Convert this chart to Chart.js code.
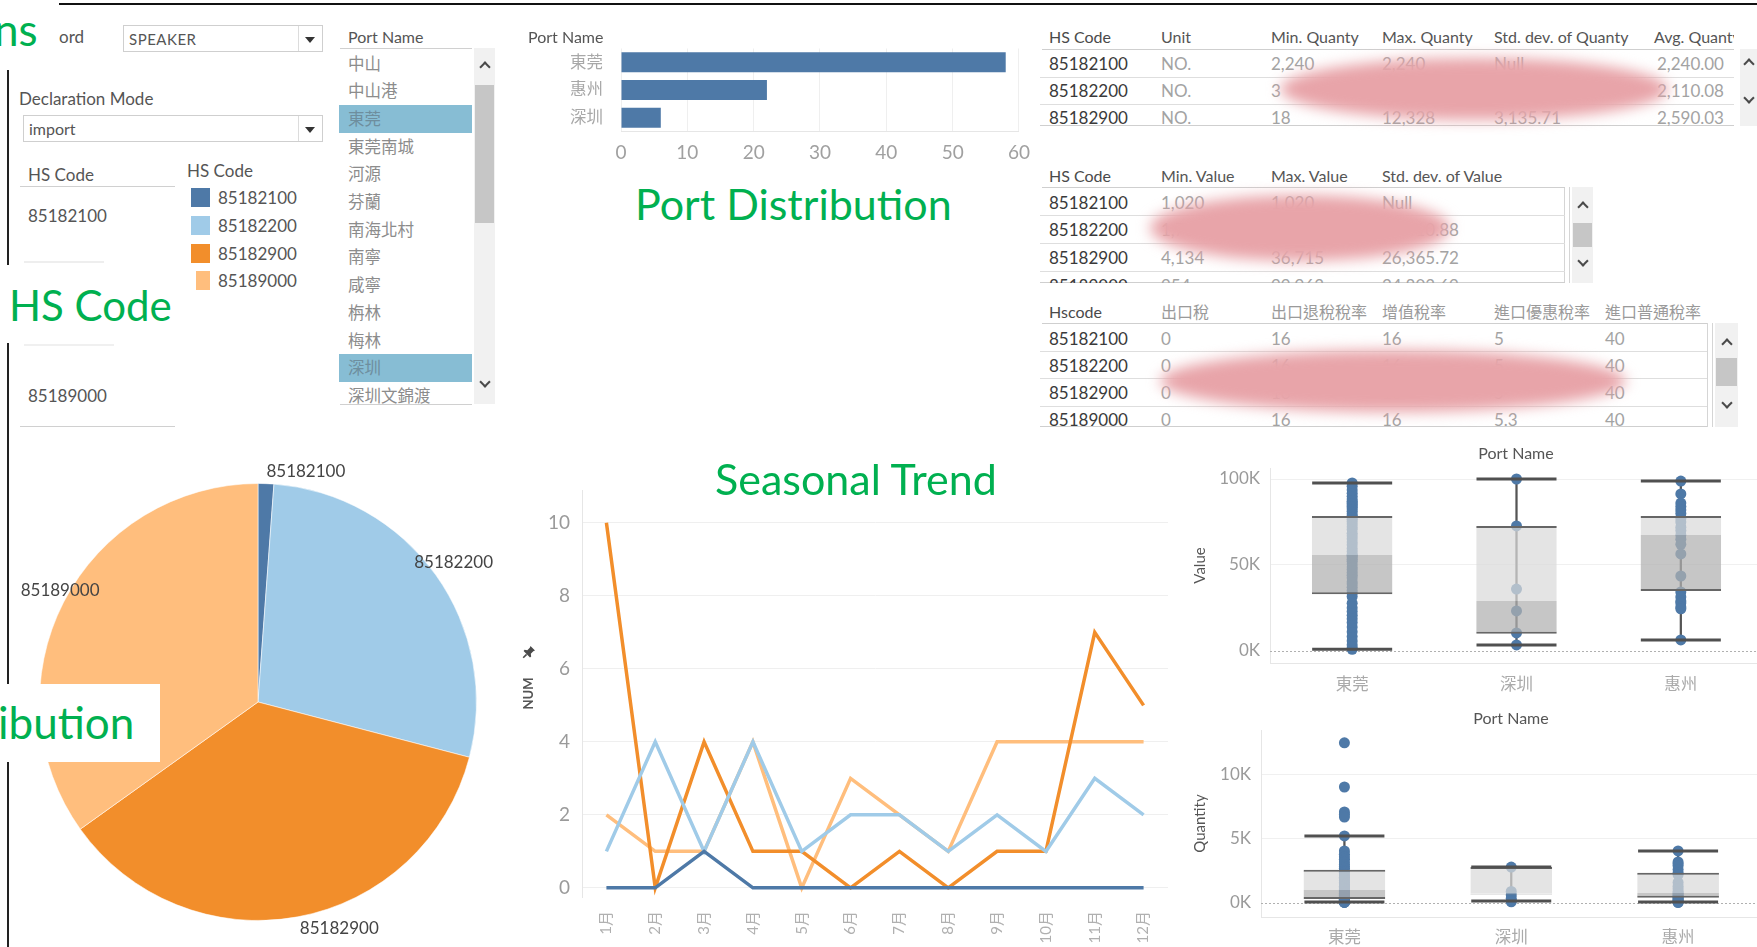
<!DOCTYPE html>
<html>
<head>
<meta charset="utf-8">
<title>SPEAKER dashboard</title>
<script src="https://cdn.jsdelivr.net/npm/chart.js@4.4.1/dist/chart.umd.min.js"></script>
<style>
  html, body { margin:0; padding:0; background:#fff; overflow:hidden; }
  #root { position:relative; width:1757px; height:947px; overflow:hidden; background:#fff;
          font-family: Lato, 'Noto Sans CJK TC', 'Noto Sans', sans-serif; color:#555; }
  #root canvas { position:absolute; z-index:1; }
  .t { position:absolute; white-space:nowrap; line-height:1; transform:translateY(-50%); z-index:3; }
  .r { position:absolute; z-index:2; }
  .chev { position:absolute; width:6px; height:6px; border-left:2px solid #4a4a4a; border-top:2px solid #4a4a4a; z-index:3; }
  .blob { position:absolute; border-radius:50%; background:#e8a4a9; filter:blur(7px); z-index:8; }
  .clip { position:absolute; overflow:hidden; z-index:3; }
</style>
</head>
<body>
<div id="root"></div>
<script>
// ================= DATA =================
const hsCodes = ['85182100', '85182200', '85182900', '85189000'];
const hsCounts = [1, 24, 31, 30];

const months = ['1月','2月','3月','4月','5月','6月','7月','8月','9月','10月','11月','12月'];
const num85182100 = [0, 0, 1, 0, 0, 0, 0, 0, 0, 0, 0, 0];
const num85182200 = [1, 4, 1, 4, 1, 2, 2, 1, 2, 1, 3, 2];
const num85182900 = [10, 0, 4, 1, 1, 0, 1, 0, 1, 1, 7, 5];
const num85189000 = [2, 1, 1, 4, 0, 3, 2, 1, 4, 4, 4, 4];
const numTicks = [0, 2, 4, 6, 8, 10];

const barPorts = ['東莞', '惠州', '深圳'];
const barCounts = [58, 22, 6];
const barTicks = [0, 10, 20, 30, 40, 50, 60];

const boxPorts = ['東莞', '深圳', '惠州'];
const valueMin    = [1000, 3500, 6400];
const valueQ1     = [33000, 10000, 34900];
const valueMedian = [55800, 29000, 67400];
const valueQ3     = [78500, 72700, 78500];
const valueMax    = [97700, 100000, 98800];
const valueTicks  = [0, 50000, 100000];
const valueDongguan = [1000, 1900, 3600, 5800, 8400, 11200, 13900, 16500, 18800, 20700, 22900, 25100, 27800, 31600,
  33600, 35200, 37100, 38900, 40300, 42600, 44100, 45700, 47400, 48800, 50500, 52200, 53400, 54700, 55500,
  56100, 57900, 59600, 61800, 63300, 65200, 66900, 68400, 70700, 72100, 73800, 75300, 76600, 77900, 78400,
  79800, 81300, 82600, 83700, 84500, 85400, 86200, 87100, 88300, 89900, 91700, 93600, 95800, 97700];
const valueShenzhen = [100000, 72700, 36000, 23300, 10500, 3500];
const valueHuizhou = [98800, 91300, 86000, 84000, 82000, 80000, 77000, 75000, 72000, 70000, 67400, 65000, 62000,
  56400, 43600, 34300, 31400, 29000, 27900, 25600, 24500, 6400];

const qtyMin    = [80, 150, 80];
const qtyQ1     = [300, 650, 400];
const qtyMedian = [1000, 720, 780];
const qtyQ3     = [2580, 2800, 2350];
const qtyMax    = [5230, 2800, 4060];
const qtyTicks  = [0, 5000, 10000];
const qtyDongguan = [12500, 9050, 7100, 6900, 6700, 5230, 4060, 3800, 3600, 3400, 3200, 3000, 2850, 2700,
  2500, 2400, 2250, 2100, 2000, 1900, 1750, 1600, 1500, 1400, 1300, 1200, 1100, 1050,
  960, 900, 850, 800, 750, 700, 650, 600, 550, 500, 450, 400, 350, 320,
  290, 260, 240, 220, 200, 180, 160, 140, 120, 100, 90, 80, 70, 60, 50, 40];
const qtyShenzhen = [2800, 900, 620, 350, 180, 90];
const qtyHuizhou = [4060, 3200, 3050, 2900, 2600, 2350, 2200, 1600, 1300, 1100, 900, 780, 700, 600, 450, 400, 300, 220, 150, 100, 60, 30];

const portList = ['中山', '中山港', '東莞', '東莞南城', '河源', '芬蘭', '南海北村', '南寧', '咸寧', '栴林', '梅林', '深圳', '深圳文錦渡'];
const portSelected = ['東莞', '深圳'];
const hsFilterShown = ['85182100', '85189000'];

const qtyTableHead = ['HS Code', 'Unit', 'Min. Quanty', 'Max. Quanty', 'Std. dev. of Quanty', 'Avg. Quanty'];
const qtyTableRows = [
  ['85182100', 'NO.', '2,240', '2,240', 'Null', '2,240.00'],
  ['85182200', 'NO.', '3', '5,400', '1,702.64', '2,110.08'],
  ['85182900', 'NO.', '18', '12,328', '3,135.71', '2,590.03']
];
const valTableHead = ['HS Code', 'Min. Value', 'Max. Value', 'Std. dev. of Value'];
const valTableRows = [
  ['85182100', '1,020', '1,020', 'Null'],
  ['85182200', '1,732', '98,120', '27,410.88'],
  ['85182900', '4,134', '36,715', '26,365.72'],
  ['85189000', '954', '99,963', '24,803.69']
];
const taxTableHead = ['Hscode', '出口稅', '出口退稅稅率', '增值稅率', '進口優惠稅率', '進口普通稅率'];
const taxTableRows = [
  ['85182100', '0', '16', '16', '5', '40'],
  ['85182200', '0', '16', '16', '5', '40'],
  ['85182900', '0', '16', '16', '5', '40'],
  ['85189000', '0', '16', '16', '5.3', '40']
];

// ================= STYLE =================
const palette = ['#4e79a7', '#a0cbe8', '#f28e2b', '#ffbe7d'];
const root = document.getElementById('root');
const FONT = "Lato, 'Noto Sans CJK TC', sans-serif";

function txt(s, x, y, size, color, extra, parent) {
  const d = document.createElement('div');
  d.className = 't';
  d.textContent = s;
  d.style.left = x + 'px'; d.style.top = y + 'px';
  d.style.fontSize = size + 'px'; d.style.color = color;
  if (extra) Object.assign(d.style, extra);
  (parent || root).appendChild(d);
  return d;
}
function rect(x, y, w, h, bg, extra, parent) {
  const d = document.createElement('div');
  d.className = 'r';
  Object.assign(d.style, { left: x + 'px', top: y + 'px', width: w + 'px', height: h + 'px', background: bg });
  if (extra) Object.assign(d.style, extra);
  (parent || root).appendChild(d);
  return d;
}
function chev(cx, cy, up) {
  const d = document.createElement('div');
  d.className = 'chev';
  d.style.left = (cx - 4) + 'px';
  d.style.top = (up ? cy - 2 : cy - 6) + 'px';
  d.style.transform = up ? 'rotate(45deg)' : 'rotate(225deg)';
  root.appendChild(d);
}
function scrollbar(x, y, w, h, thumbTop, thumbH, upY, downY) {
  rect(x, y, w, h, '#f1f1f1');
  if (thumbH) rect(x + 1, thumbTop, w - 2, thumbH, '#c6c6c6');
  chev(x + w / 2, upY, true);
  chev(x + w / 2, downY, false);
}
function mk(left, top, w, h) {
  const c = document.createElement('canvas');
  c.width = w; c.height = h;
  Object.assign(c.style, { left: left + 'px', top: top + 'px', width: w + 'px', height: h + 'px' });
  root.appendChild(c);
  return c.getContext('2d');
}
// keep tick labels from pushing the plot area around
const noPadY = (w) => (s) => { s.width = w; s.paddingTop = 0; s.paddingBottom = 0; };

// ================= FRAME LINES / TITLES =================
rect(59, 3, 1698, 2, '#111');
rect(7, 70, 2, 877, '#222');
rect(0, 265, 176, 78, '#fff', { zIndex: 5 });
rect(0, 684, 160, 78, '#fff', { zIndex: 5 });
txt('ns', -6, 29, 44, '#00b050', { zIndex: 6 });
txt('HS Code', 9, 305, 42, '#00b050', { zIndex: 6 });
txt('ibution', -2, 722, 44, '#00b050', { zIndex: 6 });
txt('Port Distribution', 635, 203, 43, '#00b050');
txt('Seasonal Trend', 715, 478, 43, '#00b050');

// ================= LEFT FILTERS =================
txt('ord', 59, 36, 17, '#555');
rect(123, 25, 200, 27, '#fff', { border: '1px solid #cfcfcf', boxSizing: 'border-box' });
rect(298, 26, 1, 25, '#dcdcdc');
rect(305, 37, 0, 0, 'transparent', { borderLeft: '5px solid transparent', borderRight: '5px solid transparent', borderTop: '6px solid #333', zIndex: 3 });
txt('SPEAKER', 129, 39, 15, '#555', { letterSpacing: '0.5px' });

txt('Declaration Mode', 19, 98, 17, '#555');
rect(23, 115, 300, 27, '#fff', { border: '1px solid #cfcfcf', boxSizing: 'border-box' });
rect(298, 116, 1, 25, '#dcdcdc');
rect(305, 127, 0, 0, 'transparent', { borderLeft: '5px solid transparent', borderRight: '5px solid transparent', borderTop: '6px solid #333', zIndex: 3 });
txt('import', 29, 129, 16, '#555');

txt('HS Code', 28, 174, 17, '#555');
rect(20, 186, 155, 1, '#d0d0d0');
txt(hsFilterShown[0], 28, 215, 17, '#555');
rect(24, 261, 80, 2, '#eeeeee');
rect(24, 344, 90, 2, '#f0f0f0');
txt(hsFilterShown[1], 28, 395, 17, '#555');
rect(20, 426, 155, 1, '#d0d0d0');

// legend
txt('HS Code', 187, 170, 17, '#555');
const legendY = [197, 225, 253, 280];
hsCodes.forEach((c, i) => {
  const x = i === 3 ? 196 : 191, w = i === 3 ? 14 : 19;
  rect(x, legendY[i] - 9.5, w, 19, palette[i]);
  txt(c, 218, legendY[i], 17, '#555');
});

// port name list
txt('Port Name', 348, 37, 16, '#555');
rect(340, 48, 132, 1, '#d0d0d0');
const listStep = 27.7;
portList.forEach((p, i) => {
  const cy = 63.5 + i * listStep;
  if (portSelected.includes(p)) rect(339, cy - 14, 133, 27.7, '#87bdd4');
  txt(p, 348, cy, 16.5, portSelected.includes(p) ? '#6e8e9e' : '#8c8c8c');
});
rect(340, 404, 132, 1, '#d0d0d0');
scrollbar(474, 48, 21, 356, 85, 138, 65, 384);

// ================= TABLES =================
function buildTable(opts) {
  const c = document.createElement('div');
  c.className = 'clip';
  Object.assign(c.style, { left: opts.x + 'px', top: opts.y + 'px', width: opts.w + 'px', height: opts.h + 'px' });
  root.appendChild(c);
  opts.head.forEach((h, j) => {
    txt(h, opts.cols[j] - opts.x, opts.headY - opts.y, 16, j === 0 ? '#4a4a4a' : opts.headColor, null, c);
  });
  rect(2, opts.lineY - opts.y, opts.w, 1, '#cfcfcf', null, c);
  opts.rows.forEach((r, i) => {
    const cy = opts.row0 - opts.y + i * opts.step;
    r.forEach((v, j) => {
      const right = opts.rightAlign && j === r.length - 1;
      txt(v, (right ? opts.rightAlign : opts.cols[j]) - opts.x, cy, 17, j === 0 ? '#3a3a3a' : '#a3a3a3',
          right ? { transform: 'translate(-100%,-50%)' } : null, c);
    });
    rect(0, cy + opts.step / 2, opts.w, 1, '#dedede', null, c);
  });
  rect(0, opts.h - 1, opts.w, 1, '#cfcfcf', null, c);
}
buildTable({ x: 1040, y: 20, w: 694, h: 106, head: qtyTableHead, rows: qtyTableRows,
  cols: [1049, 1161, 1271, 1382, 1494, 1654], rightAlign: 1724, headY: 37, headColor: '#555',
  lineY: 49, row0: 63, step: 27 });
rect(1734, 49, 6, 77, '#fff');
scrollbar(1740, 49, 17, 77, 0, 0, 62, 100);

buildTable({ x: 1040, y: 160, w: 525, h: 123, head: valTableHead, rows: valTableRows,
  cols: [1049, 1161, 1271, 1382], headY: 176, headColor: '#555',
  lineY: 187, row0: 201.5, step: 27.7 });
rect(1564, 187, 1, 96, '#d5d5d5'); rect(1569, 187, 1, 96, '#d5d5d5');
scrollbar(1572, 187, 21, 96, 223, 24, 205, 263);

buildTable({ x: 1040, y: 296, w: 667, h: 131, head: taxTableHead, rows: taxTableRows,
  cols: [1049, 1161, 1271, 1382, 1494, 1605], headY: 312, headColor: '#9a9a9a',
  lineY: 323, row0: 337.5, step: 27.3 });
rect(1707, 323, 1, 104, '#d5d5d5'); rect(1712, 323, 1, 104, '#d5d5d5');
scrollbar(1715, 323, 23, 104, 358, 28, 342, 405);

// redaction blobs
[[1280, 58, 388, 62], [1150, 195, 300, 66], [1160, 350, 466, 62]].forEach(b => {
  const d = document.createElement('div');
  d.className = 'blob';
  Object.assign(d.style, { left: b[0] + 'px', top: b[1] + 'px', width: b[2] + 'px', height: b[3] + 'px' });
  root.appendChild(d);
});

// ================= CHART DEFAULTS =================
Chart.defaults.font.family = FONT;
Chart.defaults.color = '#999';
Chart.defaults.animation = false;
Chart.defaults.responsive = false;
Chart.defaults.plugins.legend.display = false;
Chart.defaults.plugins.tooltip.enabled = false;

// ================= PORT DISTRIBUTION BAR =================
txt('Port Name', 528, 37, 16, '#555');
new Chart(mk(520, 44, 520, 125), {
  type: 'bar',
  data: { labels: barPorts, datasets: [{ data: barCounts, backgroundColor: '#4e79a7', barPercentage: 0.72, categoryPercentage: 1 }] },
  options: {
    indexAxis: 'y',
    layout: { autoPadding: false, padding: { top: 4.5, right: 20, left: 0, bottom: 0 } },
    scales: {
      x: { min: 0, max: 60,
           afterBuildTicks: s => { s.ticks = barTicks.map(v => ({ value: v })); },
           ticks: { color: '#a0a0a0', font: { size: 19 }, padding: 10 },
           grid: { color: '#efefef', drawTicks: false },
           border: { display: true, color: '#e6e6e6' },
           afterFit: s => { s.height = 37.5; } },
      y: { ticks: { color: '#a8a8a8', font: { size: 16.5 }, padding: 10, autoSkip: false },
           grid: { display: false }, border: { display: false },
           afterFit: noPadY(101) }
    }
  }
});

// ================= PIE =================
const pieLabels = {
  id: 'pieLabels',
  afterDatasetsDraw(chart) {
    const ctx = chart.ctx, meta = chart.getDatasetMeta(0);
    ctx.save();
    ctx.font = '17px ' + FONT; ctx.fillStyle = '#444'; ctx.textBaseline = 'middle';
    meta.data.forEach((arc, i) => {
      const p = arc.getProps(['x', 'y', 'startAngle', 'endAngle', 'outerRadius'], true);
      const mid = (p.startAngle + p.endAngle) / 2;
      const c = Math.cos(mid), s = Math.sin(mid);
      const side = Math.abs(c) > 0.5;
      const d = p.outerRadius + (side ? (c > 0 ? 22 : 4) : 12);
      ctx.textAlign = side ? 'center' : 'left';
      ctx.fillText(chart.data.labels[i], p.x + c * d, p.y + s * d - (side && c < 0 ? 10 : 0));
    });
    ctx.restore();
  }
};
new Chart(mk(0, 430, 520, 517), {
  type: 'pie',
  data: { labels: hsCodes, datasets: [{ data: hsCounts, backgroundColor: palette, borderColor: 'rgba(255,255,255,0.55)', borderWidth: 1 }] },
  options: { layout: { padding: { left: 39, right: 43, top: 53, bottom: 26 } } },
  plugins: [pieLabels]
});

// ================= SEASONAL TREND LINE =================
const numSeries = [num85182100, num85182200, num85182900, num85189000];
new Chart(mk(510, 470, 660, 477), {
  type: 'line',
  data: { labels: months,
          datasets: hsCodes.map((code, i) => ({ label: code, data: numSeries[i], borderColor: palette[i],
            borderWidth: 3.5, pointRadius: 0, tension: 0, borderJoinStyle: 'miter' })) },
  options: {
    layout: { autoPadding: false, padding: { top: 20, right: 2 } },
    scales: {
      x: { offset: true, grid: { display: false }, border: { display: false },
           ticks: { color: '#b0b0b0', font: { size: 15 }, minRotation: 90, maxRotation: 90, padding: 6, autoSkip: false },
           afterFit: s => { s.height = 50; } },
      y: { min: -0.25, max: 10.9,
           afterBuildTicks: s => { s.ticks = numTicks.map(v => ({ value: v })); },
           ticks: { color: '#9a9a9a', font: { size: 19 }, padding: 12 },
           grid: { color: '#efefef', drawTicks: false },
           border: { display: true, color: '#e6e6e6' },
           title: { display: true, text: 'NUM', color: '#555', font: { size: 13, weight: 'bold' }, padding: { top: 11, bottom: 0 } },
           afterFit: noPadY(72) }
    }
  }
});
// pin icon next to the NUM axis title
(function () {
  const d = document.createElement('div');
  Object.assign(d.style, { position: 'absolute', left: '522px', top: '643px', width: '14px', height: '14px', zIndex: 3 });
  d.innerHTML = '<svg width="14" height="14" viewBox="0 0 14 14"><path d="M8.5 1 L13 5.5 L11.3 6.2 L8.8 8.7 L9.2 11.4 L8 12.4 L1.6 6 L2.6 4.8 L5.3 5.2 L7.8 2.7 Z" fill="#4a4a4a"/><path d="M4.6 9.4 L1.2 12.8" stroke="#4a4a4a" stroke-width="1.6"/></svg>';
  root.appendChild(d);
})();

// ================= BOX PLOTS =================
const zeroLine = {
  id: 'zeroLine',
  beforeDatasetsDraw(chart) {
    const { ctx, chartArea: a, scales: { y } } = chart;
    const py = Math.round(y.getPixelForValue(0)) + 0.5;
    ctx.save(); ctx.strokeStyle = '#b0b0b0'; ctx.lineWidth = 1; ctx.setLineDash([2, 2]);
    ctx.beginPath(); ctx.moveTo(a.left, py); ctx.lineTo(a.right, py); ctx.stroke(); ctx.restore();
  }
};
function boxChart(ctx, s) {
  const pts = [];
  boxPorts.forEach((p, i) => s.points[i].forEach(v => pts.push({ x: p, y: v })));
  const caps = [];
  boxPorts.forEach((p, i) => { caps.push({ x: p, y: s.min[i] }); caps.push({ x: p, y: s.max[i] }); });
  return new Chart(ctx, {
    type: 'bar',
    data: {
      labels: boxPorts,
      datasets: [
        { type: 'bar', data: boxPorts.map((p, i) => [s.min[i], s.max[i]]), backgroundColor: '#555', barThickness: 1.6, grouped: false, order: 5 },
        { type: 'line', data: pts, showLine: false, pointRadius: 5.5, pointBackgroundColor: '#4e79a7', pointBorderWidth: 0, order: 4 },
        { type: 'bar', data: boxPorts.map((p, i) => [s.median[i], s.q3[i]]), backgroundColor: 'rgba(218,218,218,0.72)',
          borderColor: '#666', borderWidth: { top: 2, bottom: 0, left: 0, right: 0 }, borderSkipped: false,
          grouped: false, barPercentage: 0.49, categoryPercentage: 1, order: 3 },
        { type: 'bar', data: boxPorts.map((p, i) => [s.q1[i], s.median[i]]), backgroundColor: 'rgba(176,176,176,0.72)',
          borderColor: '#666', borderWidth: { top: 0, bottom: 2, left: 0, right: 0 }, borderSkipped: false,
          grouped: false, barPercentage: 0.49, categoryPercentage: 1, order: 2 },
        { type: 'line', data: caps, showLine: false, pointStyle: 'line', pointRadius: 40, pointBorderWidth: 3, pointBorderColor: '#505050', order: 1 }
      ]
    },
    options: {
      layout: { autoPadding: false, padding: { top: s.padTop, right: s.padRight } },
      scales: {
        x: { grid: { display: false }, border: { display: true, color: '#e6e6e6' },
             ticks: { color: '#aaa', font: { size: 16.5 }, padding: s.xPad },
             afterFit: sc => { sc.height = s.xH; } },
        y: { min: s.yMin, max: s.yMax,
             afterBuildTicks: sc => { sc.ticks = s.ticks.map(v => ({ value: v })); },
             ticks: { color: '#9a9a9a', font: { size: 17 }, padding: 10, callback: v => (v / 1000) + 'K' },
             grid: { color: c => (c.tick && c.tick.value === 0) ? 'rgba(0,0,0,0)' : '#f0f0f0', drawTicks: false },
             border: { display: true, color: '#e6e6e6' },
             title: { display: true, text: s.title, color: '#555', font: { size: 15 }, padding: { top: 31, bottom: 0 } },
             afterFit: noPadY(s.yW) }
      }
    },
    plugins: [zeroLine]
  });
}
txt('Port Name', 1516, 453, 16, '#555', { transform: 'translate(-50%,-50%)' });
boxChart(mk(1160, 440, 605, 255), {
  points: [valueDongguan, valueShenzhen, valueHuizhou],
  min: valueMin, q1: valueQ1, median: valueMedian, q3: valueQ3, max: valueMax, ticks: valueTicks,
  yMin: -7000, yMax: 106400, padTop: 28, padRight: 2, xH: 32, xPad: 4, yW: 110, title: 'Value'
});
txt('Port Name', 1511, 718, 16, '#555', { transform: 'translate(-50%,-50%)' });
boxChart(mk(1160, 700, 605, 247), {
  points: [qtyDongguan, qtyShenzhen, qtyHuizhou],
  min: qtyMin, q1: qtyQ1, median: qtyMedian, q3: qtyQ3, max: qtyMax, ticks: qtyTicks,
  yMin: -1100, yMax: 13500, padTop: 30, padRight: 3.5, xH: 30, xPad: 3, yW: 101, title: 'Quantity'
});
</script>
</body>
</html>
